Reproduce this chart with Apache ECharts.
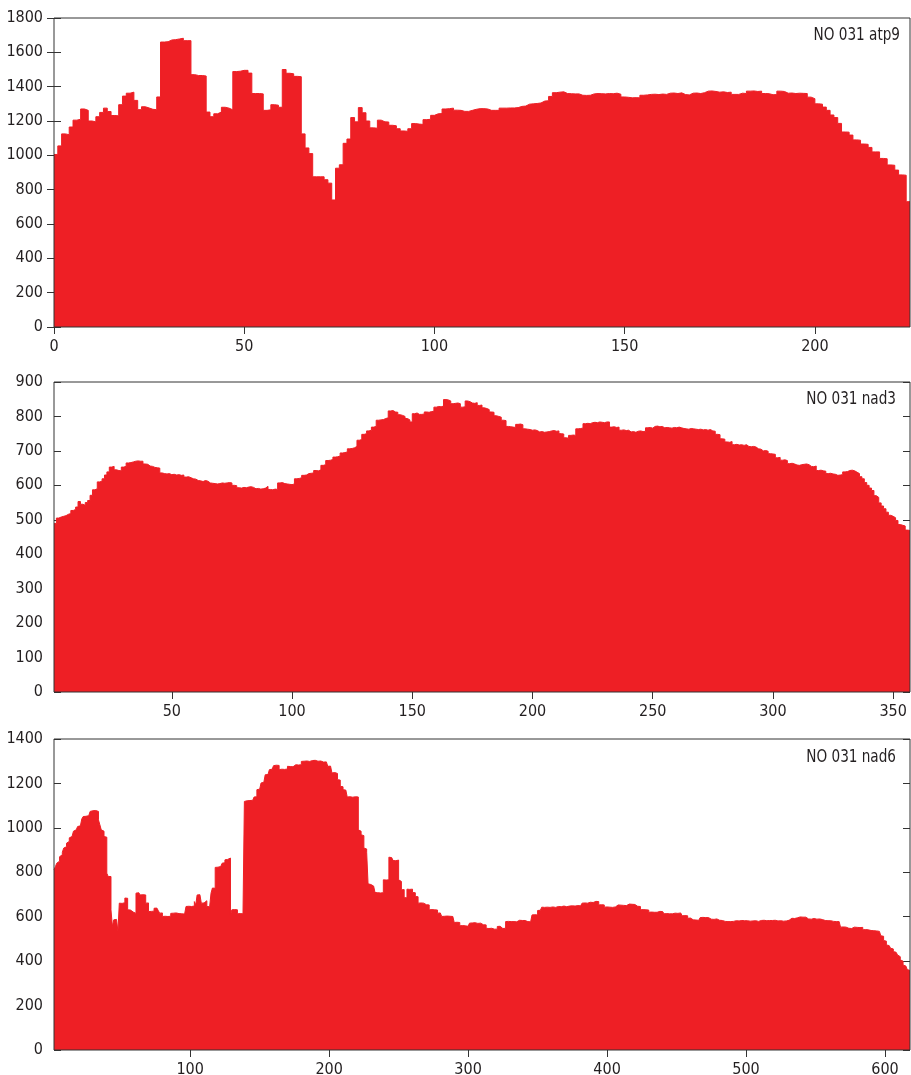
<!DOCTYPE html>
<html>
<head>
<meta charset="utf-8">
<script src="https://cdn.jsdelivr.net/npm/echarts@6/dist/echarts.min.js"></script>
<style>html,body{margin:0;padding:0;background:#fff}#c{width:911px;height:1075px}</style>
</head>
<body>
<div id="c"></div>
<script>
// ---------- DATA ----------
const PANEL_LABELS = ['NO 031 atp9', 'NO 031 nad3', 'NO 031 nad6'];

// panel 1: bars start at x = 0
const P1_START = 0;
const P1_VALUES = [
  1005,1055,1125,1120,1165,1205,1210,1270,1262,1200,
  1195,1225,1250,1275,1255,1232,1230,1295,1345,1362,
  1368,1320,1266,1283,1276,1268,1266,1340,1660,1662,
  1672,1674,1678,1682,1668,1668,1470,1465,1465,1462,
  1252,1225,1242,1252,1280,1275,1265,1488,1490,1495,
  1495,1479,1360,1360,1358,1262,1265,1295,1292,1280,
  1500,1478,1475,1460,1458,1125,1043,1010,875,875,
  875,858,838,740,925,945,1070,1095,1220,1195,
  1278,1248,1200,1160,1158,1205,1195,1194,1175,1172,
  1155,1142,1140,1155,1185,1182,1180,1208,1210,1233,
  1242,1243,1270,1272,1275,1263,1262,1256,1256,1262,
  1268,1272,1272,1270,1262,1262,1262,1275,1275,1276,
  1276,1278,1285,1287,1298,1300,1302,1305,1316,1318,
  1343,1365,1368,1370,1360,1359,1358,1358,1350,1349,
  1350,1358,1360,1359,1358,1360,1359,1362,1356,1340,
  1338,1335,1336,1335,1350,1352,1355,1356,1354,1357,
  1355,1362,1363,1360,1364,1354,1352,1362,1363,1360,
  1365,1374,1375,1372,1368,1370,1366,1368,1355,1355,
  1362,1360,1374,1375,1372,1374,1360,1359,1353,1354,
  1374,1372,1362,1363,1360,1362,1361,1360,1339,1330,
  1300,1298,1281,1262,1235,1220,1186,1136,1135,1118,
  1090,1088,1066,1064,1046,1020,1020,982,980,944,
  942,914,886,884,730
];

// panel 2: bars start at x = 1
const P2_START = 1;
const P2_VALUES = [
  489,505,508,510,512,516,518,527,530,537,
  553,545,542,550,556,571,587,590,610,612,
  619,630,639,653,655,645,643,642,653,655,
  665,666,668,670,671,670,670,662,661,656,
  655,652,651,650,636,634,633,634,631,632,
  630,631,629,630,624,625,622,619,618,614,
  613,611,614,612,607,606,605,604,605,607,
  606,607,608,607,600,599,593,592,594,593,
  595,596,594,590,591,589,590,592,597,588,
  587,589,588,607,608,605,604,603,602,604,
  619,620,622,629,630,634,635,636,643,642,
  645,658,660,672,673,675,682,683,685,694,
  695,697,706,707,709,713,731,733,748,750,
  758,760,769,771,789,790,791,794,796,816,
  817,813,812,805,803,800,794,790,784,808,
  810,806,806,807,813,812,814,815,827,829,
  828,830,849,848,845,837,838,839,837,827,
  828,845,843,839,838,840,832,833,825,823,
  820,813,812,802,800,798,789,788,771,770,
  769,768,777,778,776,764,763,762,760,761,
  759,755,756,754,755,756,758,759,757,758,
  750,749,738,737,745,746,745,764,765,766,
  779,780,779,782,783,782,784,783,782,784,
  784,769,770,768,769,760,761,759,760,755,
  756,754,757,758,756,757,767,768,766,771,
  772,770,771,767,768,767,766,768,767,769,
  767,765,764,763,765,764,763,762,763,761,
  762,760,762,758,757,748,747,735,734,726,
  725,727,718,719,717,718,716,718,713,712,
  713,711,706,705,700,701,699,692,691,690,
  680,681,673,674,672,663,664,662,659,658,
  660,661,662,660,655,654,656,643,644,642,
  641,634,635,633,632,629,630,631,639,640,
  643,644,642,638,634,625,619,608,600,592,
  585,570,565,549,540,532,522,513,510,506,
  498,486,484,482,470,469
];

// panel 3: bars start at x = 2
const P3_START = 2;
const P3_VALUES = [
  811,825,841,850,870,879,890,909,
  915,931,939,955,961,968,985,991,995,1006,
  1009,1012,1040,1051,1052,1050,1055,1058,1074,1077,
  1076,1078,1075,1074,1036,1014,991,985,961,958,
  796,781,781,631,556,586,588,584,533,661,
  660,662,663,684,683,631,630,623,621,616,
  615,706,708,705,698,699,697,698,661,662,
  623,624,622,625,638,639,637,628,616,617,
  601,602,600,601,603,602,615,616,615,617,
  616,614,612,613,611,612,614,646,647,648,
  646,649,648,668,653,698,699,697,661,662,
  671,672,646,645,648,706,729,728,822,823,
  824,826,822,841,843,856,858,857,864,608,
  631,632,630,631,613,614,612,613,615,1119,
  1122,1121,1123,1122,1124,1122,1139,1140,1172,1174,
  1172,1202,1205,1210,1239,1240,1238,1262,1264,1261,
  1280,1282,1279,1281,1262,1264,1261,1263,1260,1265,
  1277,1276,1278,1275,1279,1284,1285,1283,1286,1284,
  1299,1300,1298,1301,1297,1299,1302,1303,1301,1304,
  1302,1300,1303,1301,1295,1296,1294,1297,1293,1277,
  1278,1276,1247,1249,1246,1245,1217,1215,1187,1185,
  1172,1170,1168,1139,1140,1141,1138,1139,1140,1142,
  1139,991,985,969,965,909,905,890,748,745,
  739,738,740,709,708,706,707,709,708,766,
  765,767,766,868,866,867,853,852,854,855,
  766,759,721,722,686,685,724,723,725,724,
  709,708,691,690,661,662,660,661,653,654,
  652,653,631,632,630,631,633,630,616,617,
  615,601,602,600,603,601,602,600,601,603,
  574,575,573,574,559,560,558,559,561,557,
  559,571,572,570,573,571,570,572,571,563,
  564,562,563,548,547,549,548,546,544,545,
  544,556,557,548,547,549,548,578,579,577,
  578,580,578,579,577,583,584,582,583,585,
  583,582,578,579,577,578,608,609,607,608,
  628,629,627,643,642,644,643,645,642,643,
  644,643,642,644,646,647,645,646,648,646,
  645,649,648,650,649,651,648,649,650,648,
  649,651,661,662,660,661,664,665,663,664,
  668,669,667,668,653,654,652,653,643,644,
  642,643,645,642,643,644,642,653,654,652,
  650,651,649,650,656,657,655,656,657,655,
  646,647,645,646,631,632,630,631,632,630,
  620,621,619,620,622,620,623,624,622,623,
  622,613,614,612,613,611,613,614,616,617,
  615,616,617,615,604,605,603,604,593,594,
  592,586,587,585,586,584,586,596,597,595,
  596,598,596,597,589,590,588,589,590,583,
  584,582,583,578,579,577,578,580,578,577,
  579,581,582,580,581,582,583,584,582,583,
  582,581,580,582,581,580,582,581,579,581,
  583,582,584,583,582,584,583,585,583,582,
  584,583,581,580,582,581,580,582,581,583,
  584,582,593,594,592,593,595,598,599,597,
  598,600,598,597,590,591,589,590,592,590,
  589,588,590,589,587,589,583,584,582,583,
  582,578,579,577,578,576,578,577,553,554,
  552,553,547,548,546,547,548,553,554,552,
  553,551,553,552,541,542,540,541,539,538,
  539,537,538,536,533,534,532,514,512,493,
  490,473,470,465,458,455,443,440,432,428,
  420,406,400,383,378,370,362,358
];

// axes
const X_MIN = [0, 1, 2];
const X_MAX = [225, 357, 618];
const X_TICKS_1 = [0, 50, 100, 150, 200];
const X_TICKS_2 = [50, 100, 150, 200, 250, 300, 350];
const X_TICKS_3 = [100, 200, 300, 400, 500, 600];
const Y_MAX = [1800, 900, 1400];
const Y_STEP = [200, 100, 200];

// ---------- CHART ----------
const RED = '#ee1f25';
const AXIS = '#333333';
const TXT = '#231f20';
const FONT = "'DejaVu Sans Condensed', 'Liberation Sans', sans-serif";

const starts = [P1_START, P2_START, P3_START];
const values = [P1_VALUES, P2_VALUES, P3_VALUES];
const xticks = [X_TICKS_1, X_TICKS_2, X_TICKS_3];
const layout = [
  {top: 18, height: 309, labelY: 26, labelX: 900},
  {top: 382, height: 310, labelY: 390, labelX: 896},
  {top: 739, height: 311, labelY: 748, labelX: 896}
];

function stepPoints(start, vals) {
  const pts = vals.map((v, i) => [start + i, v]);
  pts.push([start + vals.length, vals[vals.length - 1]]);
  return pts;
}
const plain = (v) => String(v);

const grid = [], xAxis = [], yAxis = [], series = [], graphic = [];
for (let g = 0; g < 3; g++) {
  grid.push({left: 54, width: 856, top: layout[g].top, height: layout[g].height,
    outerBoundsMode: 'none', containLabel: false,
    show: true, borderColor: AXIS, borderWidth: 1, backgroundColor: 'rgba(0,0,0,0)', z: 10});
  const tick = {show: true, inside: true, length: 7, lineStyle: {color: AXIS, width: 1}, customValues: xticks[g]};
  xAxis.push({type: 'value', gridIndex: g, position: 'bottom', min: X_MIN[g], max: X_MAX[g],
    axisLine: {show: false}, splitLine: {show: false}, axisTick: tick,
    axisLabel: {customValues: xticks[g], formatter: plain, color: TXT, fontSize: 16, fontFamily: FONT, margin: 12}});
  xAxis.push({type: 'value', gridIndex: g, position: 'top', min: X_MIN[g], max: X_MAX[g],
    axisLine: {show: false}, splitLine: {show: false}, axisTick: tick, axisLabel: {show: false}});
  const ytick = {show: true, inside: true, length: 7, lineStyle: {color: AXIS, width: 1}};
  yAxis.push({type: 'value', gridIndex: g, position: 'left', min: 0, max: Y_MAX[g], interval: Y_STEP[g],
    axisLine: {show: false}, splitLine: {show: false}, axisTick: ytick,
    axisLabel: {formatter: plain, color: TXT, fontSize: 16, fontFamily: FONT, margin: 11}});
  yAxis.push({type: 'value', gridIndex: g, position: 'right', min: 0, max: Y_MAX[g], interval: Y_STEP[g],
    axisLine: {show: false}, splitLine: {show: false}, axisTick: ytick, axisLabel: {show: false}});
  series.push({type: 'line', xAxisIndex: 2 * g, yAxisIndex: 2 * g, step: 'end',
    data: stepPoints(starts[g], values[g]), showSymbol: false, symbol: 'none', silent: true,
    lineStyle: {color: RED, width: 1}, itemStyle: {color: RED},
    areaStyle: {color: RED, opacity: 1}, z: 2});
  graphic.push({type: 'text', x: layout[g].labelX, y: layout[g].labelY, scaleX: 0.84, z: 20, silent: true,
    style: {text: PANEL_LABELS[g], fontFamily: FONT, fontSize: 18, fill: TXT,
      textAlign: 'right', textVerticalAlign: 'top'}});
}

const chart = echarts.init(document.getElementById('c'), null, {renderer: 'canvas'});
chart.setOption({animation: false, backgroundColor: '#fff', grid, xAxis, yAxis, series, graphic});
</script>
</body>
</html>
